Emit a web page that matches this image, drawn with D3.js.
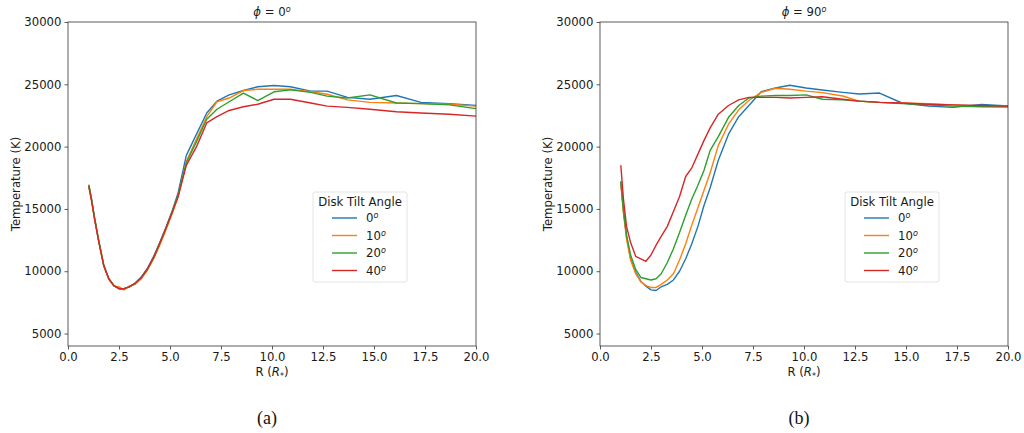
<!DOCTYPE html>
<html>
<head>
<meta charset="utf-8">
<script src="https://cdn.jsdelivr.net/npm/d3@7"></script>
<style>
  body { margin: 0; background: #fff; }
  text { font-family: "DejaVu Sans", sans-serif; }
</style>
</head>
<body>
<div id="chart"></div>
<script>
// radius grid (R*), shared by both panels
var radius = [1.02, 1.15, 1.3, 1.5, 1.75, 2.0, 2.25, 2.5, 2.75, 3.0, 3.3, 3.6, 3.9, 4.2, 4.5, 4.8, 5.1, 5.4, 5.8, 6.3,
              6.8, 7.3, 7.9, 8.6, 9.3, 10.1, 10.9, 11.9, 12.7, 13.7, 14.8, 16.1, 17.3, 18.7, 20.0];

var tiltLabels = ["0", "10", "20", "40"];
var tiltColors = ["#1f77b4", "#ff7f0e", "#2ca02c", "#d62728"];

// phi = 0 panel
var phi0_t0  = [16900, 15800, 14300, 12500, 10500, 9400, 8850, 8600, 8600, 8750, 9050, 9550, 10250, 11200, 12300, 13500, 14800, 16300, 19300, 21000,
                22700, 23650, 24150, 24500, 24800, 24900, 24800, 24450, 24450, 23950, 23800, 24100, 23550, 23450, 23300];
var phi0_t10 = [16800, 15700, 14200, 12450, 10450, 9350, 8800, 8750, 8500, 8800, 8950, 9400, 10100, 11000, 12100, 13300, 14600, 16000, 18800, 20600,
                22400, 23600, 23900, 24500, 24600, 24600, 24600, 24400, 24200, 23750, 23550, 23500, 23450, 23400, 23250];
var phi0_t20 = [16950, 15850, 14300, 12500, 10500, 9400, 8850, 8600, 8600, 8750, 9050, 9500, 10200, 11100, 12250, 13450, 14750, 16100, 18700, 20400,
                22200, 23000, 23600, 24300, 23700, 24400, 24550, 24350, 24050, 23900, 24150, 23500, 23450, 23350, 23050];
var phi0_t40 = [16800, 15700, 14200, 12450, 10450, 9400, 8850, 8600, 8600, 8750, 9050, 9500, 10200, 11100, 12250, 13450, 14700, 16000, 18500, 20000,
                21900, 22400, 22900, 23200, 23400, 23800, 23800, 23500, 23250, 23150, 23000, 22800, 22700, 22600, 22450];

// phi = 90 panel
var phi90_t0  = [17200, 15000, 12800, 11000, 9900, 9200, 8800, 8500, 8450, 8750, 8950, 9300, 10000, 11000, 12200, 13600, 15300, 16700, 18900, 21000,
                 22400, 23300, 24400, 24700, 24920, 24700, 24540, 24350, 24220, 24300, 23500, 23260, 23150, 23380, 23260];
var phi90_t10 = [17000, 14700, 12600, 10900, 9800, 9150, 8850, 8700, 8700, 8950, 9300, 9800, 10900, 12200, 13700, 15100, 16500, 17900, 20100, 21800,
                 22950, 23700, 24350, 24680, 24600, 24450, 24330, 24060, 23650, 23550, 23500, 23450, 23350, 23250, 23250];
var phi90_t20 = [17200, 14800, 12900, 11300, 10150, 9500, 9400, 9300, 9400, 9800, 10700, 11800, 13100, 14500, 15800, 16900, 18100, 19700, 20800, 22350,
                 23300, 23900, 24050, 24100, 24100, 24150, 23800, 23750, 23650, 23550, 23450, 23350, 23250, 23200, 23180];
var phi90_t40 = [18500, 15800, 13600, 12300, 11200, 11000, 10800, 11300, 12100, 12800, 13600, 14800, 16000, 17600, 18300, 19400, 20500, 21500, 22600, 23300,
                 23750, 23950, 23950, 23950, 23900, 23950, 24000, 23800, 23650, 23550, 23500, 23400, 23350, 23300, 23250];

var xTicks = [0, 2.5, 5, 7.5, 10, 12.5, 15, 17.5, 20];
var yTicks = [5000, 10000, 15000, 20000, 25000, 30000];

var panels = [
    {phi: "0", caption: "(a)", left: 68, series: [phi0_t0, phi0_t10, phi0_t20, phi0_t40]},
    {phi: "90", caption: "(b)", left: 600, series: [phi90_t0, phi90_t10, phi90_t20, phi90_t40]}
];

var W = 1024, H = 433;
var plotW = 408, plotTop = 22, plotH = 324;

var svg = d3.select("#chart").append("svg")
    .attr("width", W)
    .attr("height", H);

panels.forEach(function (p) {
    var g = svg.append("g").attr("transform", "translate(" + p.left + "," + plotTop + ")");

    var x = d3.scaleLinear().domain([0, 20]).range([0, plotW]);
    var y = d3.scaleLinear().domain([4000, 30000]).range([plotH, 0]);

    // data lines
    var line = d3.line()
        .x(function (d, i) { return x(radius[i]); })
        .y(function (d) { return y(d); });

    p.series.forEach(function (s, k) {
        g.append("path")
            .datum(s)
            .attr("fill", "none")
            .attr("stroke", tiltColors[k])
            .attr("stroke-width", 1.4)
            .attr("stroke-linejoin", "round")
            .attr("d", line);
    });

    // axes
    var xAxis = g.append("g")
        .attr("transform", "translate(0," + plotH + ")")
        .call(d3.axisBottom(x).tickValues(xTicks).tickFormat(d3.format(".1f")).tickSize(3.5).tickPadding(3));
    var yAxis = g.append("g")
        .call(d3.axisLeft(y).tickValues(yTicks).tickFormat(d3.format("d")).tickSize(3.5).tickPadding(3));
    [xAxis, yAxis].forEach(function (a) {
        a.select(".domain").remove();
        a.selectAll("line").attr("stroke", "#333").attr("stroke-width", 0.8);
        a.selectAll("text").attr("fill", "#1a1a1a").style("font-size", "11.7px");
    });

    // frame
    g.append("rect")
        .attr("width", plotW).attr("height", plotH)
        .attr("fill", "none").attr("stroke", "#333").attr("stroke-width", 0.8);

    // title
    var t = g.append("text")
        .attr("x", plotW / 2).attr("y", -6)
        .attr("text-anchor", "middle")
        .style("font-size", "11.7px").attr("fill", "#1a1a1a");
    t.append("tspan").style("font-style", "italic").text("\u03d5");
    t.append("tspan").text(" = " + p.phi);
    t.append("tspan").style("font-style", "italic").style("font-size", "8px").attr("dy", -4).text("o");

    // axis labels
    var xl = g.append("text")
        .attr("x", plotW / 2).attr("y", plotH + 30)
        .attr("text-anchor", "middle")
        .style("font-size", "11.7px").attr("fill", "#1a1a1a");
    xl.append("tspan").text("R (");
    xl.append("tspan").style("font-style", "italic").text("R");
    xl.append("tspan").style("font-size", "8px").attr("dy", 3).text("*");
    xl.append("tspan").attr("dy", -3).text(")");

    g.append("text")
        .attr("transform", "translate(-48," + (plotH / 2) + ") rotate(-90)")
        .attr("text-anchor", "middle")
        .style("font-size", "11.7px").attr("fill", "#1a1a1a")
        .text("Temperature (K)");

    // caption
    svg.append("text")
        .attr("x", p.left + plotW / 2 - 5).attr("y", 424)
        .attr("text-anchor", "middle")
        .style("font-family", "'Liberation Serif', serif")
        .style("font-size", "18px").attr("fill", "#111")
        .text(p.caption);

    // legend
    var lg = g.append("g").attr("transform", "translate(" + (plotW - 163) + ",170)");
    lg.append("rect")
        .attr("width", 94).attr("height", 90).attr("rx", 2)
        .attr("fill", "#fff").attr("stroke", "#ddd").attr("stroke-width", 0.8);
    lg.append("text")
        .attr("x", 47).attr("y", 14)
        .attr("text-anchor", "middle")
        .style("font-size", "11.7px").attr("fill", "#1a1a1a")
        .text("Disk Tilt Angle");
    tiltLabels.forEach(function (lab, k) {
        var yy = 26 + k * 17.5;
        lg.append("line")
            .attr("x1", 19).attr("x2", 44).attr("y1", yy).attr("y2", yy)
            .attr("stroke", tiltColors[k]).attr("stroke-width", 1.4);
        var tx = lg.append("text")
            .attr("x", 53).attr("y", yy + 4)
            .style("font-size", "11.7px").attr("fill", "#1a1a1a");
        tx.append("tspan").text(lab);
        tx.append("tspan").style("font-style", "italic").style("font-size", "8px").attr("dy", -4).text("o");
    });
});
</script>
</body>
</html>
